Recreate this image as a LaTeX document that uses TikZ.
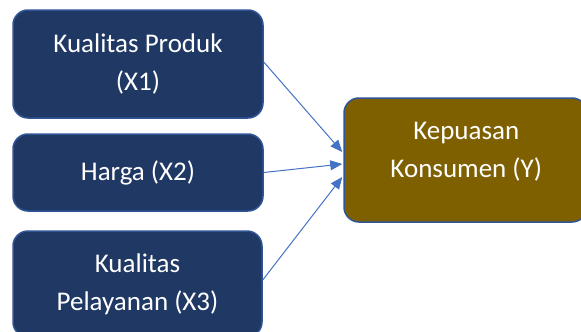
\documentclass[tikz,border=0pt]{standalone}
\usepackage{fontspec}
\setmainfont{Carlito}
\usetikzlibrary{arrows.meta,calc}
\definecolor{navy}{HTML}{203864}
\definecolor{edgeblue}{HTML}{2F5597}
\definecolor{olive}{HTML}{7F6000}
\definecolor{arrowblue}{HTML}{4472C4}
\tikzset{
  varbox/.style={draw=edgeblue, line width=1.5pt, rounded corners=15pt,
    text=white, align=center, font=\fontsize{27}{38}\selectfont, inner sep=0pt},
  boxtext/.style={text=white, align=center, font=\fontsize{27}{38}\selectfont, inner sep=0pt},
  link/.style={draw=arrowblue, line width=1pt,
    -{Triangle[length=12pt,width=10pt]}}
}
\begin{document}
\begin{tikzpicture}[x=1pt,y=-1pt]
  \useasboundingbox (0,0) rectangle (581,332);
  \clip (0,0) rectangle (581,332);
  \node[varbox, fill=navy, minimum width=250pt, minimum height=108pt] (x1) at (138,64) {Kualitas Produk\\(X1)};
  \node[varbox, fill=navy, minimum width=250pt, minimum height=77pt] (x2) at (138,172.5) {Harga (X2)};
  \node[varbox, fill=navy, minimum width=249pt, minimum height=106pt] (x3) at (137.5,284) {Kualitas\\Pelayanan (X3)};
  \node[varbox, fill=olive, minimum width=243pt, minimum height=124pt] (y) at (465.5,160) {};
  \node[boxtext] (ytext) at ($(y.west)+(123,-8)$) {Kepuasan\\Konsumen (Y)};
  \draw[link] ($(x1.east)+(0,-2)$) -- ($(y.west)+(-1,-8)$);
  \draw[link] (x2.east) -- ($(y.west)+(-1,4)$);
  \draw[link] ($(x3.east)+(0,-4)$) -- ($(y.west)+(-1,17)$);
\end{tikzpicture}
\end{document}
